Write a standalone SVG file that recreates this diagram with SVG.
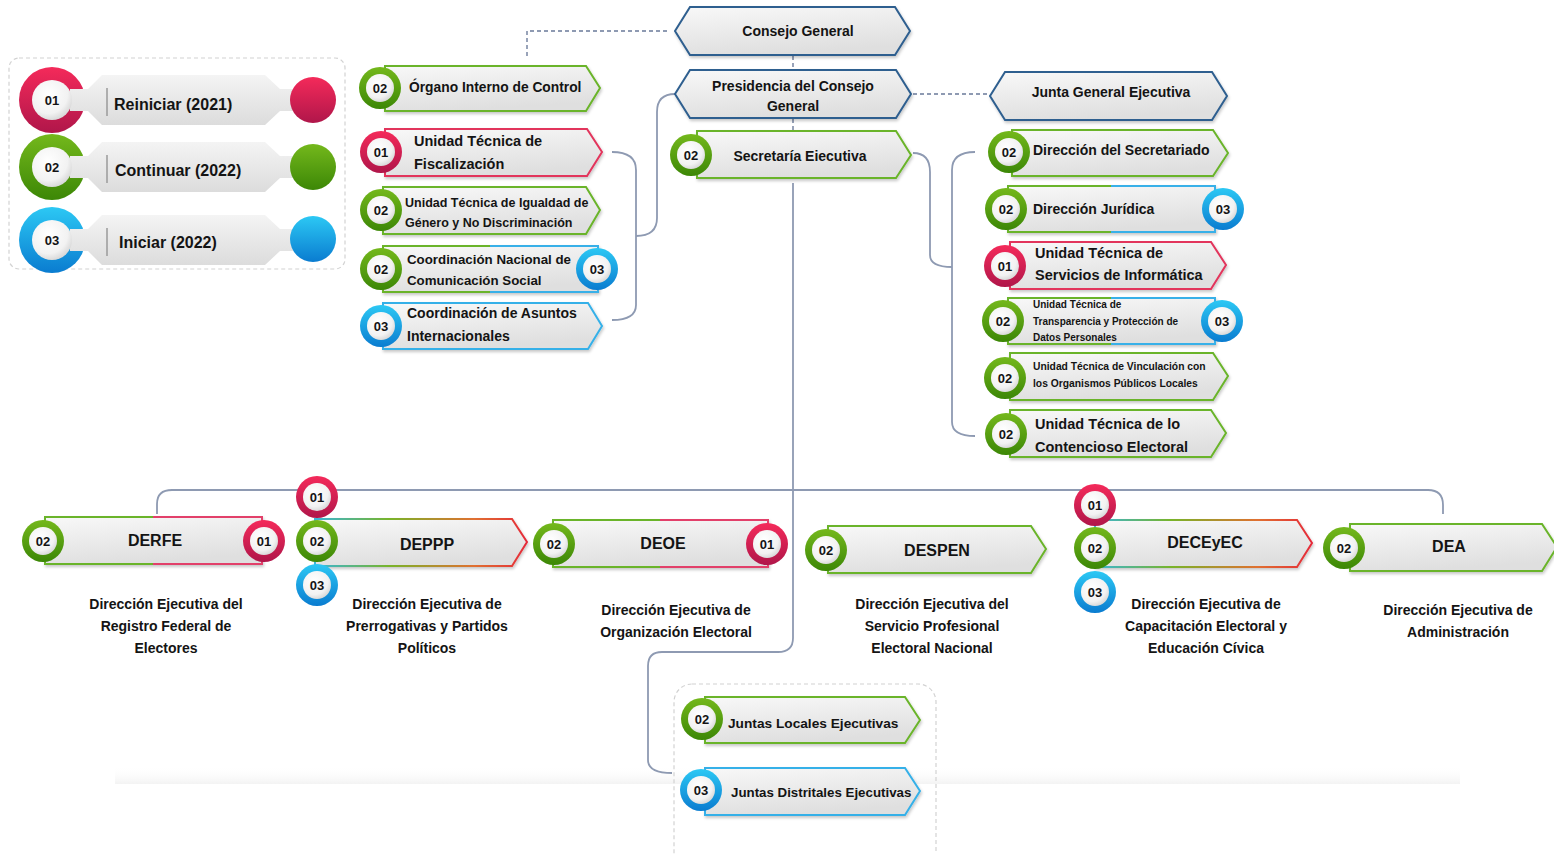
<svg xmlns="http://www.w3.org/2000/svg" width="1554" height="854" viewBox="0 0 1554 854">
<defs>
<linearGradient id="gRed" x1="0" y1="0" x2="0" y2="1"><stop offset="0" stop-color="#f42a5a"/><stop offset="1" stop-color="#b0164a"/></linearGradient>
<linearGradient id="gGreen" x1="0" y1="0" x2="0" y2="1"><stop offset="0" stop-color="#74b81c"/><stop offset="1" stop-color="#3c8706"/></linearGradient>
<linearGradient id="gBlue" x1="0" y1="0" x2="0" y2="1"><stop offset="0" stop-color="#2cc8f4"/><stop offset="1" stop-color="#0a7cd0"/></linearGradient>
<radialGradient id="gIn" cx="0.4" cy="0.35" r="0.7"><stop offset="0" stop-color="#ffffff"/><stop offset="0.7" stop-color="#f2f2f2"/><stop offset="1" stop-color="#d4d4d4"/></radialGradient>
<linearGradient id="boxFill" x1="0" y1="0" x2="0.3" y2="1"><stop offset="0" stop-color="#f8f8f8"/><stop offset="1" stop-color="#dfdfdf"/></linearGradient>
<linearGradient id="pillFill" x1="0" y1="0" x2="0" y2="1"><stop offset="0" stop-color="#f4f4f4"/><stop offset="1" stop-color="#dcdcdc"/></linearGradient>
<linearGradient id="sGB" x1="0" y1="0" x2="1" y2="0"><stop offset="0" stop-color="#6ab42a"/><stop offset="0.5" stop-color="#6ab42a"/><stop offset="0.5" stop-color="#38b0e8"/><stop offset="1" stop-color="#38b0e8"/></linearGradient>
<linearGradient id="sGR" x1="0" y1="0" x2="1" y2="0"><stop offset="0" stop-color="#6ab42a"/><stop offset="0.5" stop-color="#6ab42a"/><stop offset="0.5" stop-color="#e2406a"/><stop offset="1" stop-color="#e2406a"/></linearGradient>
<linearGradient id="sRb" x1="0" y1="0" x2="1" y2="0"><stop offset="0" stop-color="#3ab6d8"/><stop offset="0.35" stop-color="#78b42a"/><stop offset="0.75" stop-color="#e07030"/><stop offset="1" stop-color="#e52a3a"/></linearGradient>
<linearGradient id="floor" x1="0" y1="0" x2="0" y2="1"><stop offset="0" stop-color="#ffffff" stop-opacity="0"/><stop offset="1" stop-color="#f3f3f3"/></linearGradient>
<filter id="sh" x="-10%" y="-20%" width="120%" height="150%"><feDropShadow dx="1" dy="2" stdDeviation="1.5" flood-color="#000" flood-opacity="0.22"/></filter>
</defs>
<style>
text{font-family:"Liberation Sans",Arial,sans-serif;font-weight:bold;fill:#141414}
.b{fill:url(#boxFill);stroke-width:2;filter:url(#sh)}
.hx{fill:url(#boxFill);stroke:#2f5f8f;stroke-width:2;filter:url(#sh)}
.sg{stroke:#6ab42a}.sr{stroke:#e2355c}.sb{stroke:#36b0e8}
.r1{fill:url(#gRed)}.r2{fill:url(#gGreen)}.r3{fill:url(#gBlue)}
.in{fill:url(#gIn)}
.n{font-size:13px}
.c{text-anchor:middle}
.l14{font-size:14px}.l15{font-size:14.5px}
.d{font-size:14px;text-anchor:middle}
.ti{font-size:16px;text-anchor:middle}
.con{fill:none;stroke:#8e9ab2;stroke-width:1.8}
.dash{fill:none;stroke:#8e9ab2;stroke-width:1.8;stroke-dasharray:4 3}
.frame{fill:none;stroke:#d2d2d2;stroke-width:1.2;stroke-dasharray:4 3}
</style>
<rect width="1554" height="854" fill="#ffffff"/>
<rect x="115" y="766" width="1345" height="18" fill="url(#floor)"/>

<g id="connectors">
<path class="dash" d="M667 31 L527 31 L527 58"/>
<path class="dash" d="M793 56 L793 69"/>
<path class="dash" d="M793 119 L793 130"/>
<path class="dash" d="M913 94 L988 94"/>
<path class="con" d="M612 152 Q636 152 636 170 L636 305 Q636 320 612 320"/>
<path class="con" d="M636 236 Q657 236 657 218 L657 112 Q657 94 675 94"/>
<path class="con" d="M913 153 Q930 153 930 172 L930 255 Q930 267 952 267"/>
<path class="con" d="M975 152 Q952 152 952 170 L952 422 Q952 436 975 436"/>
<path class="con" d="M793 183 L793 638 Q793 652 778 652 L662 652 Q648 652 648 666 L648 760 Q648 773 672 773"/>
<path class="con" d="M157 514 L157 504 Q157 490 172 490 L1428 490 Q1443 490 1443 505 L1443 514"/>
</g>

<g id="legend">
<rect class="frame" x="9" y="58" width="336" height="211" rx="10"/>
<circle cx="52" cy="100" r="33" class="r1"/>
<path d="M70 89 L88 89 L102 75 L265 75 L280 89 L295 89 L295 111 L280 111 L265 125 L102 125 L88 111 L70 111 Z" fill="url(#pillFill)"/>
<circle cx="52" cy="100" r="20" class="in"/>
<text x="52" y="105" class="n c">01</text>
<line x1="107" y1="88" x2="107" y2="116" stroke="#9a9a9a" stroke-width="1.5"/>
<text x="114" y="110" style="font-size:16px">Reiniciar (2021)</text>
<circle cx="313" cy="100" r="23" class="r1"/>

<circle cx="52" cy="167" r="33" class="r2"/>
<path d="M70 156 L88 156 L102 142 L265 142 L280 156 L295 156 L295 178 L280 178 L265 192 L102 192 L88 178 L70 178 Z" fill="url(#pillFill)"/>
<circle cx="52" cy="167" r="20" class="in"/>
<text x="52" y="172" class="n c">02</text>
<line x1="107" y1="155" x2="107" y2="183" stroke="#9a9a9a" stroke-width="1.5"/>
<text x="115" y="176" style="font-size:16px">Continuar (2022)</text>
<circle cx="313" cy="167" r="23" class="r2"/>

<circle cx="52" cy="240" r="33" class="r3"/>
<path d="M70 229 L88 229 L102 215 L265 215 L280 229 L295 229 L295 251 L280 251 L265 265 L102 265 L88 251 L70 251 Z" fill="url(#pillFill)"/>
<circle cx="52" cy="240" r="20" class="in"/>
<text x="52" y="245" class="n c">03</text>
<line x1="107" y1="228" x2="107" y2="256" stroke="#9a9a9a" stroke-width="1.5"/>
<text x="119" y="248" style="font-size:16px">Iniciar (2022)</text>
<circle cx="313" cy="239" r="23" class="r3"/>
</g>

<g id="consejo-general">
<path class="hx" d="M675 31 L690 7 L895 7 L910 31 L895 55 L690 55 Z"/>
<text x="798" y="36" class="c l14">Consejo General</text>
</g>
<g id="presidencia">
<path class="hx" d="M675 94 L690 70 L896 70 L911 94 L896 118 L690 118 Z"/>
<text x="793" y="91" class="c l14">Presidencia del Consejo</text>
<text x="793" y="111" class="c l14">General</text>
</g>
<g id="junta-general">
<path class="hx" d="M990 96 L1005 72 L1212 72 L1227 96 L1212 120 L1005 120 Z"/>
<text x="1111" y="97" class="c l14">Junta General Ejecutiva</text>
</g>
<g id="secretaria">
<path class="b sg" d="M697 131 L896 131 L911 155 L896 178 L697 178 Z"/>
<circle cx="691" cy="155" r="21" class="r2"/><circle cx="691" cy="155" r="14" class="in"/><text x="691" y="160" class="n c">02</text>
<text x="800" y="161" class="c l14">Secretaría Eiecutiva</text>
</g>

<g id="organo">
<path class="b sg" d="M385 66 L586 66 L600 88 L586 111 L385 111 Z"/>
<circle cx="380" cy="88" r="21" class="r2"/><circle cx="380" cy="88" r="14" class="in"/><text x="380" y="93" class="n c">02</text>
<text x="409" y="92" style="font-size:13.8px">Órgano Interno de Control</text>
</g>
<g id="fiscalizacion">
<path class="b sr" d="M385 129 L587 129 L602 152 L587 176 L385 176 Z"/>
<circle cx="381" cy="152" r="21" class="r1"/><circle cx="381" cy="152" r="14" class="in"/><text x="381" y="157" class="n c">01</text>
<text x="414" y="146" class="l15">Unidad Técnica de</text>
<text x="414" y="169" class="l15">Fiscalización</text>
</g>
<g id="igualdad">
<path class="b sg" d="M383 187 L586 187 L600 210 L586 234 L383 234 Z"/>
<circle cx="381" cy="210" r="21" class="r2"/><circle cx="381" cy="210" r="14" class="in"/><text x="381" y="215" class="n c">02</text>
<text x="405" y="207" style="font-size:12.5px">Unidad Técnica de Igualdad de</text>
<text x="405" y="227" style="font-size:12.5px">Género y No Discriminación</text>
</g>
<g id="comunicacion">
<path class="b" stroke="url(#sGB)" d="M383 246 L598 246 L598 292 L383 292 Z"/>
<circle cx="381" cy="269" r="21" class="r2"/><circle cx="381" cy="269" r="14" class="in"/><text x="381" y="274" class="n c">02</text>
<circle cx="597" cy="269" r="21" class="r3"/><circle cx="597" cy="269" r="14" class="in"/><text x="597" y="274" class="n c">03</text>
<text x="407" y="264" style="font-size:13.3px">Coordinación Nacional de</text>
<text x="407" y="285" style="font-size:13.3px">Comunicación Social</text>
</g>
<g id="asuntos">
<path class="b sb" d="M383 303 L588 303 L602 326 L588 349 L383 349 Z"/>
<circle cx="381" cy="326" r="21" class="r3"/><circle cx="381" cy="326" r="14" class="in"/><text x="381" y="331" class="n c">03</text>
<text x="407" y="318" style="font-size:14px">Coordinación de Asuntos</text>
<text x="407" y="341" style="font-size:14px">Internacionales</text>
</g>

<g id="secretariado">
<path class="b sg" d="M1012 130 L1213 130 L1228 153 L1213 176 L1012 176 Z"/>
<circle cx="1009" cy="152" r="21" class="r2"/><circle cx="1009" cy="152" r="14" class="in"/><text x="1009" y="157" class="n c">02</text>
<text x="1033" y="155" style="font-size:14px">Dirección del Secretariado</text>
</g>
<g id="juridica">
<path class="b" stroke="url(#sGB)" d="M1008 186 L1215 186 L1215 232 L1008 232 Z"/>
<circle cx="1006" cy="209" r="21" class="r2"/><circle cx="1006" cy="209" r="14" class="in"/><text x="1006" y="214" class="n c">02</text>
<circle cx="1223" cy="209" r="21" class="r3"/><circle cx="1223" cy="209" r="14" class="in"/><text x="1223" y="214" class="n c">03</text>
<text x="1033" y="214" style="font-size:14px">Dirección Jurídica</text>
</g>
<g id="informatica">
<path class="b sr" d="M1010 242 L1211 242 L1226 265 L1211 289 L1010 289 Z"/>
<circle cx="1005" cy="266" r="21" class="r1"/><circle cx="1005" cy="266" r="14" class="in"/><text x="1005" y="271" class="n c">01</text>
<text x="1035" y="258" class="l15">Unidad Técnica de</text>
<text x="1035" y="280" class="l15">Servicios de Informática</text>
</g>
<g id="transparencia">
<path class="b" stroke="url(#sGB)" d="M1008 298 L1215 298 L1215 344 L1008 344 Z"/>
<circle cx="1003" cy="321" r="21" class="r2"/><circle cx="1003" cy="321" r="14" class="in"/><text x="1003" y="326" class="n c">02</text>
<circle cx="1222" cy="321" r="21" class="r3"/><circle cx="1222" cy="321" r="14" class="in"/><text x="1222" y="326" class="n c">03</text>
<text x="1033" y="307.5" style="font-size:10px">Unidad Técnica de</text>
<text x="1033" y="324.5" style="font-size:10px">Transparencia y Protección de</text>
<text x="1033" y="340.5" style="font-size:10px">Datos Personales</text>
</g>
<g id="vinculacion">
<path class="b sg" d="M1010 353 L1213 353 L1228 376 L1213 400 L1010 400 Z"/>
<circle cx="1005" cy="378" r="21" class="r2"/><circle cx="1005" cy="378" r="14" class="in"/><text x="1005" y="383" class="n c">02</text>
<text x="1033" y="370" style="font-size:10.3px">Unidad Técnica de Vinculación con</text>
<text x="1033" y="387" style="font-size:10.3px">los Organismos Públicos Locales</text>
</g>
<g id="contencioso">
<path class="b sg" d="M1010 410 L1211 410 L1226 433 L1211 457 L1010 457 Z"/>
<circle cx="1006" cy="434" r="21" class="r2"/><circle cx="1006" cy="434" r="14" class="in"/><text x="1006" y="439" class="n c">02</text>
<text x="1035" y="429" class="l15">Unidad Técnica de lo</text>
<text x="1035" y="452" class="l15">Contencioso Electoral</text>
</g>

<g id="derfe">
<path class="b" stroke="url(#sGR)" d="M45 517 L262 517 L262 564 L45 564 Z"/>
<circle cx="43" cy="541" r="21" class="r2"/><circle cx="43" cy="541" r="14" class="in"/><text x="43" y="546" class="n c">02</text>
<circle cx="264" cy="541" r="21" class="r1"/><circle cx="264" cy="541" r="14" class="in"/><text x="264" y="546" class="n c">01</text>
<text x="155" y="546" class="ti">DERFE</text>
<text x="166" y="609" class="d">Dirección Ejecutiva del</text>
<text x="166" y="631" class="d">Registro Federal de</text>
<text x="166" y="653" class="d">Electores</text>
</g>
<g id="deppp">
<path class="b" stroke="url(#sRb)" d="M315 519 L512 519 L527 542 L512 566 L315 566 Z"/>
<circle cx="317" cy="497" r="21" class="r1"/><circle cx="317" cy="497" r="14" class="in"/><text x="317" y="502" class="n c">01</text>
<circle cx="317" cy="585" r="21" class="r3"/><circle cx="317" cy="585" r="14" class="in"/><text x="317" y="590" class="n c">03</text>
<circle cx="317" cy="541" r="21" class="r2"/><circle cx="317" cy="541" r="14" class="in"/><text x="317" y="546" class="n c">02</text>
<text x="427" y="550" class="ti">DEPPP</text>
<text x="427" y="609" class="d">Dirección Ejecutiva de</text>
<text x="427" y="631" class="d">Prerrogativas y Partidos</text>
<text x="427" y="653" class="d">Políticos</text>
</g>
<g id="deoe">
<path class="b" stroke="url(#sGR)" d="M553 520 L768 520 L768 567 L553 567 Z"/>
<circle cx="554" cy="544" r="21" class="r2"/><circle cx="554" cy="544" r="14" class="in"/><text x="554" y="549" class="n c">02</text>
<circle cx="767" cy="544" r="21" class="r1"/><circle cx="767" cy="544" r="14" class="in"/><text x="767" y="549" class="n c">01</text>
<text x="663" y="549" class="ti">DEOE</text>
<text x="676" y="615" class="d">Dirección Ejecutiva de</text>
<text x="676" y="637" class="d">Organización Electoral</text>
</g>
<g id="despen">
<path class="b sg" d="M828 526 L1031 526 L1046 549 L1031 573 L828 573 Z"/>
<circle cx="826" cy="550" r="21" class="r2"/><circle cx="826" cy="550" r="14" class="in"/><text x="826" y="555" class="n c">02</text>
<text x="937" y="556" class="ti">DESPEN</text>
<text x="932" y="609" class="d">Dirección Ejecutiva del</text>
<text x="932" y="631" class="d">Servicio Profesional</text>
<text x="932" y="653" class="d">Electoral Nacional</text>
</g>
<g id="deceyec">
<path class="b" stroke="url(#sRb)" d="M1095 520 L1297 520 L1312 543 L1297 567 L1095 567 Z"/>
<circle cx="1095" cy="505" r="21" class="r1"/><circle cx="1095" cy="505" r="14" class="in"/><text x="1095" y="510" class="n c">01</text>
<circle cx="1095" cy="592" r="21" class="r3"/><circle cx="1095" cy="592" r="14" class="in"/><text x="1095" y="597" class="n c">03</text>
<circle cx="1095" cy="548" r="21" class="r2"/><circle cx="1095" cy="548" r="14" class="in"/><text x="1095" y="553" class="n c">02</text>
<text x="1205" y="548" class="ti">DECEyEC</text>
<text x="1206" y="609" class="d">Dirección Ejecutiva de</text>
<text x="1206" y="631" class="d">Capacitación Electoral y</text>
<text x="1206" y="653" class="d">Educación Cívica</text>
</g>
<g id="dea">
<path class="b sg" d="M1350 524 L1542 524 L1557 547 L1542 571 L1350 571 Z"/>
<circle cx="1344" cy="548" r="21" class="r2"/><circle cx="1344" cy="548" r="14" class="in"/><text x="1344" y="553" class="n c">02</text>
<text x="1449" y="552" class="ti">DEA</text>
<text x="1458" y="615" class="d">Dirección Ejecutiva de</text>
<text x="1458" y="637" class="d">Administración</text>
</g>

<g id="juntas">
<rect class="frame" x="674" y="684" width="262" height="190" rx="18"/>
<g id="juntas-locales">
<path class="b sg" d="M705 697 L905 697 L920 720 L905 743 L705 743 Z"/>
<circle cx="702" cy="719" r="21" class="r2"/><circle cx="702" cy="719" r="14" class="in"/><text x="702" y="724" class="n c">02</text>
<text x="728" y="728" style="font-size:13.7px">Juntas Locales Ejecutivas</text>
</g>
<g id="juntas-distritales">
<path class="b sb" d="M705 768 L905 768 L920 791 L905 815 L705 815 Z"/>
<circle cx="701" cy="790" r="21" class="r3"/><circle cx="701" cy="790" r="14" class="in"/><text x="701" y="795" class="n c">03</text>
<text x="731" y="797" style="font-size:13.3px">Juntas Distritales Ejecutivas</text>
</g>
</g>
</svg>
